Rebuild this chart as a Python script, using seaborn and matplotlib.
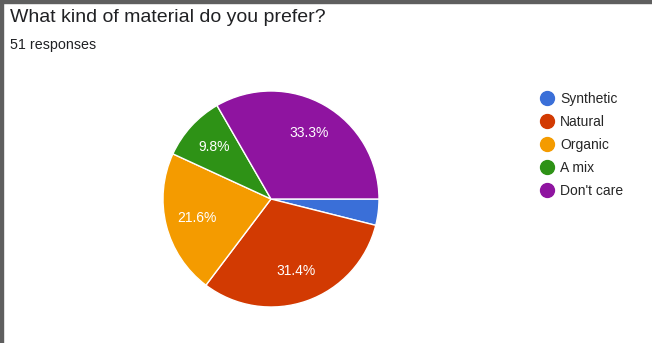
import matplotlib
matplotlib.use("Agg")
import matplotlib.pyplot as plt
from matplotlib.lines import Line2D
from matplotlib.patches import Rectangle
import seaborn as sns

categories = ["Synthetic", "Natural", "Organic", "A mix", "Don't care"]
counts = [2, 16, 11, 5, 17]
colors = ["#3a6fd8", "#d23a02", "#f49b00", "#2e9216", "#8f14a0"]
title = "What kind of material do you prefer?"
subtitle = "51 responses"

sns.set_theme(style="white")
plt.rcParams['font.family'] = ['Liberation Sans', 'DejaVu Sans']

W, H = 652, 343
fig = plt.figure(figsize=(W / 100, H / 100), dpi=100)
fig.patch.set_facecolor("white")

cx, cy, r = 271, 199, 108
ax = fig.add_axes([(cx - r) / W, (H - cy - r) / H, 2 * r / W, 2 * r / H])
palette = sns.color_palette(colors)

def fmt(p):
    return f"{p:.1f}%" if p >= 5 else ""

wedges, texts, autotexts = ax.pie(
    counts, colors=palette, startangle=0, counterclock=False,
    autopct=fmt, pctdistance=0.71, radius=1,
    wedgeprops=dict(edgecolor="white", linewidth=1),
    textprops=dict(color="white", fontsize=10))
ax.set_xlim(-1, 1)
ax.set_ylim(-1, 1)
ax.set_aspect("equal")
ax.axis("off")

fig.text(10 / W, 1 - 18 / H, title, fontsize=14, color="#202124", va="center", ha="left")
fig.text(10 / W, 1 - 45 / H, subtitle, fontsize=10.3, color="#202124", va="center", ha="left")

handles = [Line2D([0], [0], marker="o", linestyle="", markersize=10,
                  markerfacecolor=c, markeredgecolor=c) for c in palette]
fig.legend(handles, categories, loc="upper left",
           bbox_to_anchor=(540 / W, 1 - 92 / H), frameon=False,
           fontsize=10, labelspacing=0.64, handlelength=1.0,
           handletextpad=0.45, borderaxespad=0, borderpad=0)

fig.patches.append(Rectangle((0, 1 - 3 / H), 1, 3 / H, transform=fig.transFigure,
                             color="#5f5f5f", zorder=10))
fig.patches.append(Rectangle((0, 0), 3 / W, 1, transform=fig.transFigure,
                             color="#5f5f5f", zorder=10))

fig.savefig("out.png", dpi=100)
